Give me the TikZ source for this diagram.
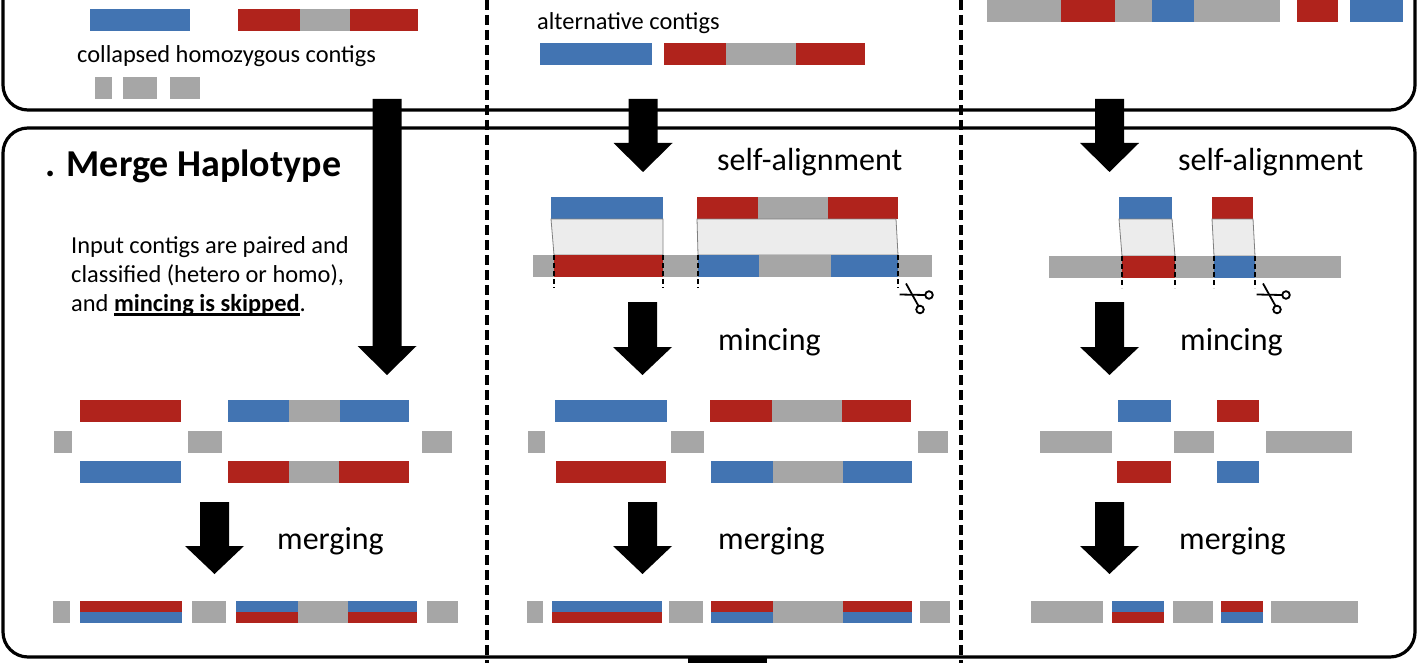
\documentclass[tikz,border=0pt]{standalone}
\usepackage{fontspec}
\setmainfont{Carlito}
\usetikzlibrary{positioning}

\definecolor{cblue}{HTML}{4274B2}
\definecolor{cred}{HTML}{B0231C}
\definecolor{cgray}{HTML}{A6A6A6}
\definecolor{cband}{HTML}{ECECEC}

\tikzstyle{panel} = [line width=3.2, rounded corners=25]
\tikzstyle{sep} = [line width=3.5, dash pattern=on 10 off 5]
\tikzstyle{cut} = [line width=2, dash pattern=on 5 off 3]
\tikzstyle{band} = [fill=cband, draw=gray, line width=0.8]
\tikzstyle{lbl} = [anchor=base west, inner sep=0, font=\fontsize{32}{38}\selectfont]
\tikzstyle{small lbl} = [anchor=base west, inner sep=0, font=\fontsize{24.4}{29}\selectfont]

% contig piece: colour, x1, x2, top y
\newcommand{\ctg}[4]{\fill[#1] (#2,#4) rectangle (#3,#4+22);}
% merged piece: top colour, bottom colour, x1, x2, top y
\newcommand{\mrg}[5]{\fill[#1] (#3,#5) rectangle (#4,#5+11);
  \fill[#2] (#3,#5+11) rectangle (#4,#5+22);}
% block arrow: centre x, shaft top, head top, tip
\newcommand{\blockarrow}[4]{\fill (#1-14.5,#2) -- (#1+14.5,#2) -- (#1+14.5,#3)
  -- (#1+29.5,#3) -- (#1,#4) -- (#1-29.5,#3) -- (#1-14.5,#3) -- cycle;}
% scissors below a cut
\newcommand{\scissors}[2]{
  \draw[line width=1.8] (#1+8,#2+3.5) -- (#1+20.5,#2+26);
  \draw[line width=1.8] (#1+1.5,#2+14.5) -- (#1+27,#2+15);
  \draw[line width=1.8] (#1+22,#2+29.5) circle (3.8);
  \draw[line width=1.8] (#1+31,#2+15) circle (3.8);}
\newcommand{\thickul}[1]{\setbox0\hbox{#1}\rlap{\rule[-4.5pt]{\wd0}{2.6pt}}\box0}

\begin{document}
\begin{tikzpicture}[x=1pt,y=-1pt]
  \useasboundingbox (0,0) rectangle (1420,663);
  \clip (0,0) rectangle (1420,663);

  % panels and column separators
  \draw[panel] (3,-60) rectangle (1415,110);
  \draw[panel] (3,128) rectangle (1415,657);
  \draw[sep] (487,0) -- (487,663);
  \draw[sep] (961,0) -- (961,663);
  \fill (688,658) rectangle (767,663);

  % input contigs (col 1)
  \ctg{cblue}{90}{190}{9}
  \ctg{cred}{238}{300}{9} \ctg{cgray}{300}{350}{9} \ctg{cred}{350}{418}{9}
  \path (77,63) node[small lbl] (homo) {collapsed homozygous contigs};
  \ctg{cgray}{95}{112}{77} \ctg{cgray}{123}{157}{77} \ctg{cgray}{170}{200}{77}

  % input contigs (col 2)
  \path (537,30) node[small lbl] (alt) {alternative contigs};
  \ctg{cblue}{540}{652}{43}
  \ctg{cred}{664}{726}{43} \ctg{cgray}{726}{796}{43} \ctg{cred}{796}{865}{43}

  % input contigs (col 3)
  \ctg{cgray}{987}{1061}{0} \ctg{cred}{1061}{1115}{0} \ctg{cgray}{1115}{1152}{0}
  \ctg{cblue}{1152}{1194}{0} \ctg{cgray}{1194}{1280}{0}
  \ctg{cred}{1297}{1338}{0} \ctg{cblue}{1350}{1403}{0}

  % merge haplotype (col 1)
  \path (45,177) node[anchor=base west, inner sep=0,
    font=\fontsize{38}{44}\selectfont\bfseries] (title) {. Merge Haplotype};
  \path (71,253) node[small lbl] (desc1) {Input contigs are paired and};
  \path (71,282) node[small lbl] (desc2) {classified (hetero or homo),};
  \path (71,311) node[small lbl] (desc3) {and \thickul{\textbf{mincing is skipped}}.};
  \blockarrow{387}{99}{346}{375}

  % self-alignment (col 2)
  \blockarrow{643}{99}{143}{172}
  \path (717,171) node[lbl] (alnB) {self-alignment};
  \ctg{cblue}{551}{663}{197}
  \ctg{cred}{697}{758}{197} \ctg{cgray}{758}{828}{197} \ctg{cred}{828}{898}{197}
  \draw[band] (551,219) -- (663,219) -- (663,255) -- (554,255) -- cycle;
  \draw[band] (697,219) -- (896,219) -- (898,255) -- (698,255) -- cycle;
  \ctg{cgray}{533}{932}{255}
  \ctg{cred}{554}{663}{255} \ctg{cblue}{698}{759}{255} \ctg{cblue}{831}{898}{255}
  \foreach \x in {554,663,698,898} {
    \draw[cut] (\x,255) -- (\x,288);
  }
  \scissors{898}{280}

  % self-alignment (col 3)
  \blockarrow{1109.5}{99}{143}{172}
  \path (1178,171) node[lbl] (alnC) {self-alignment};
  \ctg{cblue}{1119}{1172}{197} \ctg{cred}{1212}{1253}{197}
  \draw[band] (1119,219) -- (1172,219) -- (1175,256) -- (1122,256) -- cycle;
  \draw[band] (1212,219) -- (1253,219) -- (1255,256) -- (1214,256) -- cycle;
  \ctg{cgray}{1049}{1341}{256}
  \ctg{cred}{1122}{1175}{256} \ctg{cblue}{1214}{1255}{256}
  \foreach \x in {1122,1175,1214,1255} {
    \draw[cut] (\x,256) -- (\x,288);
  }
  \scissors{1255}{280}

  % mincing
  \blockarrow{642.5}{302}{347}{375}
  \path (718,350) node[lbl] (minB) {mincing};
  \blockarrow{1109.5}{302}{347}{375}
  \path (1180,350) node[lbl] (minC) {mincing};

  % pieces (col 1)
  \ctg{cred}{80}{181}{400}
  \ctg{cblue}{228}{289}{400} \ctg{cgray}{289}{340}{400} \ctg{cblue}{340}{409}{400}
  \ctg{cgray}{54}{72}{431} \ctg{cgray}{188}{222}{431} \ctg{cgray}{422}{452}{431}
  \ctg{cblue}{80}{181}{461}
  \ctg{cred}{228}{289}{461} \ctg{cgray}{289}{339}{461} \ctg{cred}{339}{409}{461}

  % pieces (col 2)
  \ctg{cblue}{555}{667}{400}
  \ctg{cred}{710}{772}{400} \ctg{cgray}{772}{842}{400} \ctg{cred}{842}{911}{400}
  \ctg{cgray}{528}{545}{431} \ctg{cgray}{671}{704}{431} \ctg{cgray}{918}{948}{431}
  \ctg{cred}{556}{666}{461}
  \ctg{cblue}{711}{773}{461} \ctg{cgray}{773}{843}{461} \ctg{cblue}{843}{912}{461}

  % pieces (col 3)
  \ctg{cblue}{1118}{1171}{400} \ctg{cred}{1217}{1259}{400}
  \ctg{cgray}{1040}{1112}{431} \ctg{cgray}{1174}{1214}{431} \ctg{cgray}{1266}{1352}{431}
  \ctg{cred}{1117}{1171}{461} \ctg{cblue}{1217}{1259}{461}

  % merging
  \blockarrow{214.5}{502}{546}{574}
  \path (277,549) node[lbl] (mrgA) {merging};
  \blockarrow{642.5}{502}{546}{574}
  \path (718,549) node[lbl] (mrgB) {merging};
  \blockarrow{1109.5}{502}{546}{574}
  \path (1179,549) node[lbl] (mrgC) {merging};

  % merged contigs
  \ctg{cgray}{53}{70}{601} \mrg{cred}{cblue}{80}{182}{601} \ctg{cgray}{192}{226}{601}
  \mrg{cblue}{cred}{236}{298}{601} \ctg{cgray}{298}{348}{601}
  \mrg{cblue}{cred}{348}{417}{601} \ctg{cgray}{427}{458}{601}

  \ctg{cgray}{527}{543}{601} \mrg{cblue}{cred}{552}{662}{601} \ctg{cgray}{669}{703}{601}
  \mrg{cred}{cblue}{711}{773}{601} \ctg{cgray}{773}{843}{601}
  \mrg{cred}{cblue}{843}{912}{601} \ctg{cgray}{920}{950}{601}

  \ctg{cgray}{1031}{1103}{601} \mrg{cblue}{cred}{1112}{1164}{601}
  \ctg{cgray}{1173}{1213}{601} \mrg{cred}{cblue}{1221}{1263}{601}
  \ctg{cgray}{1271}{1358}{601}
\end{tikzpicture}
\end{document}
